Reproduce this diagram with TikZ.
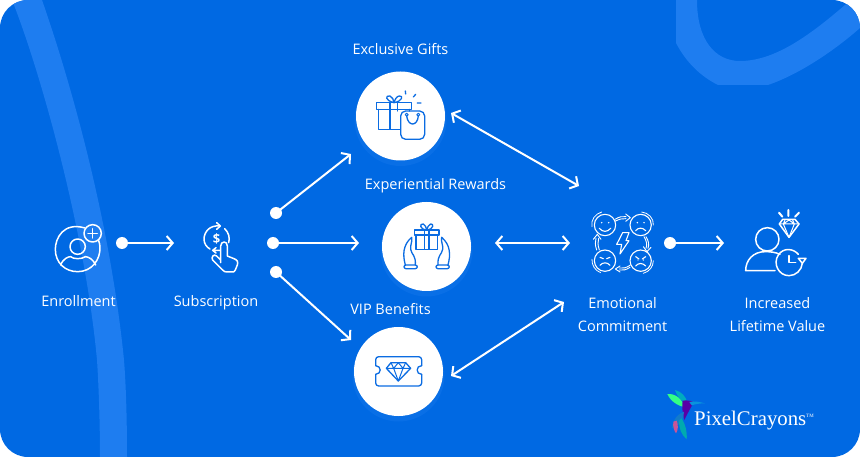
\documentclass[tikz,border=0pt]{standalone}
\usepackage{fontspec}
\setmainfont{Open Sans}
\newfontfamily\logofont{Liberation Serif}
\usetikzlibrary{arrows.meta}
\definecolor{bgblue}{HTML}{0069E3}
\definecolor{bandblue}{HTML}{1E7DF0}
\definecolor{iconblue}{HTML}{0B6CE2}
\tikzset{
  disc/.style={circle,fill=white,draw=none,minimum size=89pt,inner sep=0pt},
  dotnode/.style={circle,fill=white,draw=none,minimum size=12pt,inner sep=0pt},
  flow/.style={draw=white,line width=2pt,-{Straight Barb[length=6pt,width=14pt,line width=2pt]},line cap=round},
  flowtwo/.style={draw=white,line width=2pt,{Straight Barb[length=6pt,width=14pt,line width=2pt]}-{Straight Barb[length=6pt,width=14pt,line width=2pt]},line cap=round},
  lbl/.style={text=white,font=\fontsize{14.5pt}{16pt}\selectfont,inner sep=0pt,align=center},
  iconw/.style={draw=white,line width=1.5pt,line cap=round,line join=round},
  iconb/.style={draw=iconblue,line width=1.3pt,line cap=round,line join=round},
  zoomed/.style={shift={(#1)},scale=0.33333},
}
\begin{document}
\begin{tikzpicture}[x=1pt,y=-1pt]
\useasboundingbox (0,0) rectangle (860,457);
\fill[white] (0,0) rectangle (860,457);
\begin{scope}
\clip[rounded corners=28pt] (0,0) rectangle (860,457);
\fill[bgblue] (0,0) rectangle (860,457);
% background bands
\fill[bandblue] (12,0) .. controls (40,70) and (85,230) .. (97,360) .. controls (99,390) and (100,430) .. (100,457)
  -- (127,457) .. controls (127,420) and (126,385) .. (124,360) .. controls (110,220) and (70,80) .. (42,0) -- cycle;
\fill[bandblue] (676,0) -- (676,43) .. controls (686,62) and (700,76) .. (718,85) -- (768,85)
  .. controls (800,74) and (835,50) .. (860,28) -- (860,0) -- (845,5)
  .. controls (810,35) and (775,61) .. (740,61) .. controls (715,61) and (697,40) .. (697,0) -- cycle;
% soft glow below the discs
\fill[bandblue,opacity=.3] (400.5,120) circle (46);
\fill[bandblue,opacity=.3] (426.5,250.5) circle (46);
\fill[bandblue,opacity=.3] (398.5,375.5) circle (46);
\end{scope}

% discs
\node[disc] (gifts) at (400.5,116) {};
\node[disc] (rewards) at (426.5,246.5) {};
\node[disc] (vip) at (398.5,371.5) {};

% dots
\node[dotnode] (d1) at (122,243) {};
\node[dotnode] (d2) at (276,213) {};
\node[dotnode] (d3) at (273,243) {};
\node[dotnode] (d4) at (276,272) {};
\node[dotnode] (d5) at (670,243) {};

% connector ends
\coordinate (subIn) at (174,243);
\coordinate (giftsIn) at (351,154);
\coordinate (rewardsIn) at (359,243);
\coordinate (vipIn) at (351,340);
\coordinate (giftsOut) at (451,113);
\coordinate (emoA) at (579,186);
\coordinate (rewardsOut) at (495,243);
\coordinate (emoB) at (570,243);
\coordinate (vipOut) at (451,376);
\coordinate (emoC) at (564,302);
\coordinate (valueIn) at (724,243);

\draw[flow] (d1.center) -- (subIn);
\draw[flow] (d2.center) -- (giftsIn);
\draw[flow] (d3.center) -- (rewardsIn);
\draw[flow] (d4.center) -- (vipIn);
\draw[flow] (d5.center) -- (valueIn);
\draw[flowtwo] (giftsOut) -- (emoA);
\draw[flowtwo] (rewardsOut) -- (emoB);
\draw[flowtwo] (vipOut) -- (emoC);

% labels
\node[lbl] (t1) at (400.5,49) {Exclusive Gifts};
\node[lbl] (t2) at (435.5,186) {Experiential Rewards};
\node[lbl] (t3) at (390.5,309.5) {VIP Benefits};
\node[lbl] (t4) at (78.5,301) {Enrollment};
\node[lbl] (t5) at (216,303) {Subscription};
\node[lbl,text height=10pt,text depth=3pt] (t6a) at (622.5,305) {Emotional};
\node[lbl,text height=10pt,text depth=3pt] (t6b) at (622.5,328) {Commitment};
\node[lbl,text height=10pt,text depth=3pt] (t7a) at (777.5,305) {Increased};
\node[lbl,text height=10pt,text depth=3pt] (t7b) at (777.5,328) {Lifetime Value};

% gift icon
\begin{scope}[zoomed={340,30}]
\draw[iconb] (180,238) -- (110,238) -- (110,218) -- (215,218) -- (215,238) -- (180,238);
\draw[iconb] (116,238) -- (116,298) -- (180,298);
\draw[iconb] (208,238) -- (208,243);
\draw[iconb] (150,218) -- (150,298) (173,218) -- (173,243);
\draw[iconb] (162,218) .. controls (135,212) and (135,195) .. (150,198) .. controls (158,200) and (160,210) .. (162,218)
  .. controls (164,210) and (170,198) .. (178,198) .. controls (190,196) and (188,214) .. (162,218);
\draw[iconb,rounded corners=5pt] (182,243) rectangle (254,328);
\draw[iconb] (200,258) .. controls (204,290) and (232,290) .. (235,258);
\draw[iconb,line width=1pt] (200,254) circle (4.5) (235,254) circle (4.5);
\draw[iconb] (196,183) -- (197,192) (227,193) -- (220,201) (232,219) -- (243,219);
\end{scope}

% rewards icon
\begin{scope}[zoomed={370,190}]
\draw[iconb] (133,120) rectangle (207,135);
\draw[iconb] (138,135) rectangle (202,178);
\draw[iconb] (163,120) -- (163,178) (177,120) -- (177,178);
\draw[iconb] (170,120) .. controls (148,118) and (148,100) .. (160,102) .. controls (166,104) and (168,112) .. (170,120)
  .. controls (172,112) and (176,104) .. (182,102) .. controls (192,100) and (192,118) .. (170,120);
\draw[iconb,rounded corners=2pt] (102,225) rectangle (142,236);
\draw[iconb,rounded corners=2pt] (198,225) rectangle (238,236);
\draw[iconb] (106,225) .. controls (98,195) and (98,165) .. (125,142) .. controls (128,155) and (120,165) .. (122,178)
  .. controls (125,195) and (138,195) .. (136,225);
\draw[iconb] (234,225) .. controls (242,195) and (242,165) .. (215,142) .. controls (212,155) and (220,165) .. (218,178)
  .. controls (215,195) and (202,195) .. (204,225);
\end{scope}

% ticket icon
\begin{scope}[zoomed={345,320}]
\draw[iconb,rounded corners=3pt] (92,137) -- (92,110) -- (230,110) -- (230,137);
\draw[iconb] (230,137) .. controls (212,137) and (212,163) .. (230,163);
\draw[iconb,rounded corners=3pt] (230,163) -- (230,198) -- (92,198) -- (92,163);
\draw[iconb] (92,163) .. controls (110,163) and (110,137) .. (92,137);
\draw[iconb] (138,128) -- (182,128) -- (197,145) -- (160,183) -- (124,145) -- cycle;
\draw[iconb,line width=1pt] (124,145) -- (197,145) (138,128) -- (146,145) -- (160,128) -- (174,145) -- (182,128) (146,145) -- (160,183) -- (174,145);
\end{scope}

% enrollment icon
\begin{scope}[zoomed={30,210}]
\draw[iconw] (165,54) .. controls (100,35) and (76,85) .. (76,118) .. controls (76,158) and (105,185) .. (143,185) .. controls (185,185) and (211,150) .. (210,112) .. controls (210,105) and (208,98) .. (206,92);
\draw[iconw] (188,70) circle (26);
\draw[iconw] (188,56) -- (188,84) (174,70) -- (202,70);
\draw[iconw] (143,110) circle (23);
\draw[iconw] (92,165) .. controls (100,145) and (115,140) .. (122,140) .. controls (130,148) and (156,148) .. (166,140) .. controls (175,140) and (190,148) .. (197,165);
\end{scope}

% subscription icon
\begin{scope}[zoomed={30,210}]
\draw[iconw] (568,48) .. controls (540,45) and (522,65) .. (522,88) .. controls (522,100) and (530,112) .. (540,117);
\draw[iconw] (560,38) -- (571,48) -- (560,58);
\draw[iconw] (584,56) .. controls (597,68) and (600,85) .. (596,98);
\draw[iconw] (558,113) -- (548,121) -- (558,129) (548,121) -- (570,121);
\node[text=white,font=\fontsize{13pt}{13pt}\selectfont\bfseries,inner sep=0pt] (dollar) at (560,87) {\$};
\draw[iconw] (572,158) -- (572,108) .. controls (573,92) and (592,92) .. (592,108) -- (592,138) -- (612,146)
  .. controls (622,150) and (625,155) .. (622,165) -- (616,180) .. controls (614,186) and (610,186) .. (606,186) -- (590,186)
  .. controls (585,186) and (582,184) .. (578,180) -- (548,150) .. controls (542,142) and (552,130) .. (560,138) -- (572,150);
\end{scope}

% emotions icon
\begin{scope}[zoomed={570,200}]
\foreach \cx/\cy in {105/75,212/75,105/182,212/182}{
  \draw[iconw,line width=1.1pt] (\cx,\cy) circle (32);
}
% happy
\fill[white] (95,68) circle (2.5) (116,68) circle (2.5);
\draw[iconw,line width=1.1pt] (88,85) .. controls (98,97) and (112,97) .. (122,85);
% sad top right
\fill[white] (202,68) circle (2.5) (222,68) circle (2.5);
\draw[iconw,line width=1.1pt] (197,92) .. controls (205,82) and (218,82) .. (227,92);
% sad bottom left
\draw[iconw,line width=1.1pt] (90,172) -- (100,176) (120,172) -- (110,176);
\draw[iconw,line width=1.1pt] (90,196) .. controls (98,186) and (112,186) .. (120,196);
% angry
\draw[iconw,line width=1.1pt] (197,170) -- (207,177) (227,170) -- (217,177);
\fill[white] (204,180) circle (2) (220,180) circle (2);
\draw[iconw,line width=1.1pt] (197,198) .. controls (205,188) and (218,188) .. (227,198);
% outer arcs
\draw[iconw,line width=.8pt] (66,80) .. controls (62,60) and (75,42) .. (95,36);
\draw[iconw,line width=.8pt] (215,36) .. controls (235,38) and (252,55) .. (250,75);
\draw[iconw,line width=.8pt] (66,178) .. controls (65,195) and (75,212) .. (92,218);
\draw[iconw,line width=.8pt] (220,220) .. controls (238,215) and (250,200) .. (250,182);
% bolt
\draw[iconw,line width=1.1pt] (158,98) -- (177,98) -- (168,122) -- (177,122) -- (150,162) -- (155,133) -- (140,133) -- cycle;
% exchange arrows
\draw[iconw,line width=.9pt] (135,58) .. controls (148,50) and (158,48) .. (168,50) (135,64) .. controls (148,57) and (158,55) .. (168,56);
\draw[iconw,line width=.9pt] (167,42) -- (181,53) -- (167,64);
\draw[iconw,line width=.9pt] (228,110) .. controls (236,122) and (238,135) .. (234,145) (222,110) .. controls (230,122) and (232,135) .. (228,145);
\draw[iconw,line width=.9pt] (220,140) -- (231,155) -- (243,142);
\draw[iconw,line width=.9pt] (180,196) .. controls (168,204) and (158,206) .. (148,204) (180,202) .. controls (168,210) and (158,212) .. (148,210);
\draw[iconw,line width=.9pt] (150,198) -- (136,207) -- (150,216);
\draw[iconw,line width=.9pt] (80,150) .. controls (75,135) and (75,125) .. (78,115) (88,150) .. controls (83,135) and (83,125) .. (86,115);
\draw[iconw,line width=.9pt] (70,118) -- (82,103) -- (93,118);
\end{scope}

% value icon
\begin{scope}[zoomed={730,200}]
\draw[iconw] (112,118) circle (35);
\draw[iconw] (135,212) -- (47,212) .. controls (47,180) and (70,155) .. (105,155) .. controls (120,155) and (135,156) .. (150,163);
\draw[iconw] (205,163) .. controls (190,145) and (160,142) .. (145,165) .. controls (128,190) and (145,227) .. (177,227) .. controls (198,227) and (215,210) .. (217,190);
\draw[iconw] (177,167) -- (177,187) -- (197,187);
\draw[iconw] (205,175) -- (228,175) -- (217,190) -- cycle;
\draw[iconw] (148,72) -- (158,58) -- (195,58) -- (207,72) -- (177,112) -- cycle;
\draw[iconw,line width=1pt] (148,72) -- (207,72) (165,60) -- (160,72) -- (177,112) -- (193,72) -- (188,60) (160,72) -- (177,60) -- (193,72);
\draw[iconw,line width=2pt] (147,38) -- (157,50) (175,30) -- (175,48) (207,38) -- (195,50);
\end{scope}

% logo
\begin{scope}[zoomed={650,380}]
\fill[cyan!70!green] (75,30) .. controls (95,35) and (108,50) .. (112,68) .. controls (98,68) and (82,52) .. (75,30) -- cycle;
\fill[green!60!cyan!80!white] (52,42) .. controls (75,40) and (95,55) .. (105,82) .. controls (85,78) and (62,65) .. (52,42) -- cycle;
\fill[violet!70!blue] (98,62) .. controls (110,60) and (122,62) .. (132,66) .. controls (125,78) and (115,95) .. (103,120) .. controls (98,100) and (95,80) .. (98,62) -- cycle;
\fill[cyan!80!blue] (118,66) .. controls (130,62) and (150,66) .. (165,70) .. controls (150,70) and (135,72) .. (125,76) -- cycle;
\fill[cyan!60!blue] (102,95) .. controls (85,100) and (68,118) .. (66,145) .. controls (85,140) and (100,125) .. (102,95) -- cycle;
\fill[magenta!50!violet!80!white] (70,125) .. controls (68,140) and (72,152) .. (78,160) .. controls (85,150) and (85,135) .. (80,122) -- cycle;
\fill[cyan!60!green] (88,120) .. controls (85,145) and (95,165) .. (110,178) .. controls (112,155) and (105,130) .. (95,115) -- cycle;
\end{scope}
\node[text=white,font=\logofont\fontsize{20.8pt}{21pt}\selectfont,inner sep=0pt,anchor=west] (logo) at (694,421) {PixelCrayons};
\node[text=white,font=\logofont\fontsize{5pt}{5pt}\selectfont,inner sep=0pt,anchor=west] (tm) at (806,416) {TM};
\end{tikzpicture}
\end{document}
